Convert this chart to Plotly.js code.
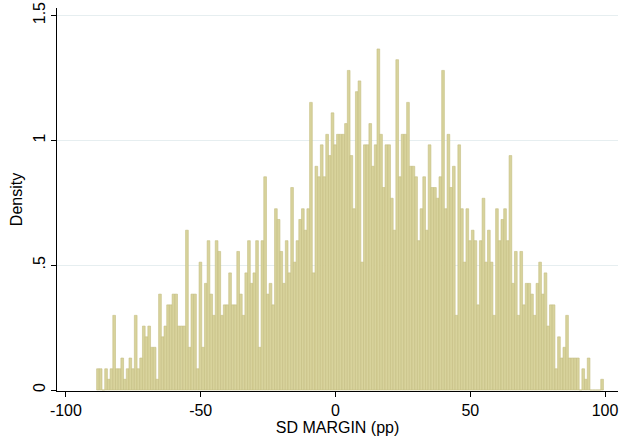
<!DOCTYPE html>
<html><head><meta charset="utf-8">
<script src="https://cdn.plot.ly/plotly-3.0.1.min.js"></script>
<style>html,body{margin:0;padding:0;background:#fff}</style>
</head><body><div id="chart" style="width:624px;height:436px"></div>
<script>
const binStart = -88.6;
const binWidth = 1;
const density = [
 0.085,0.085,0,0.085,0.043,0.085,0.299,0.085,0.085,0.128,
 0.043,0.085,0.128,0.085,0.299,0.085,0.128,0.256,0.213,0.256,
 0.171,0.171,0.043,0.384,0.213,0.256,0.341,0.341,0.384,0.384,
 0.256,0.256,0.256,0.640,0.171,0.384,0.384,0.085,0.512,0.171,
 0.427,0.598,0.384,0.299,0.598,0.555,0.299,0.341,0.341,0.469,
 0.341,0.341,0.555,0.384,0.299,0.469,0.598,0.427,0.469,0.598,
 0.171,0.598,0.854,0.384,0.427,0.341,0.726,0.683,0.555,0.427,
 0.598,0.469,0.811,0.512,0.598,0.683,0.726,0.640,0.726,1.152,
 0.469,0.896,0.854,0.982,0.854,1.024,0.939,1.110,0.982,1.024,
 1.024,1.024,1.067,1.280,0.939,0.726,1.195,1.238,0.512,0.982,
 0.982,1.067,0.896,0.982,1.366,1.024,0.811,0.982,0.982,0.768,
 0.640,1.323,0.854,1.024,1.024,1.152,0.896,0.896,0.854,0.598,
 0.726,0.854,0.640,0.982,0.811,0.811,0.768,0.854,1.280,0.726,
 1.024,0.811,0.896,0.299,0.982,0.726,0.512,0.726,0.598,0.640,
 0.598,0.341,0.598,0.768,0.512,0.640,0.512,0.299,0.726,0.598,
 0.683,0.726,0.598,0.939,0.427,0.555,0.299,0.555,0.341,0.427,
 0.427,0.384,0.299,0.427,0.512,0.384,0.469,0.256,0.341,0.341,
 0.085,0.213,0.128,0.171,0.299,0.128,0.128,0.128,0.128,0,
 0.085,0.043,0.128,0,0,0,0,0.043
];
const xTickVals = [-100, -50, 0, 50, 100];
const xTickText = ['-100', '-50', '0', '50', '100'];
const yTickVals = [0, 0.5, 1, 1.5];
const yTickText = ['0', '.5', '1', '1.5'];
const xTitle = 'SD MARGIN (pp)';
const yTitle = 'Density';

const xCenters = density.map((_, i) => binStart + binWidth * (i + 0.5));

const trace = {
  type: 'bar',
  x: xCenters,
  y: density,
  width: binWidth,
  marker: { color: 'rgb(216,211,156)', line: { color: 'rgb(196,190,130)', width: 0.6 } },
  hoverinfo: 'x+y'
};

const font = { family: 'Liberation Sans, Arial, sans-serif', size: 16, color: '#000' };

const layout = {
  width: 624, height: 436,
  margin: { l: 57, r: 6, t: 8, b: 45 },
  paper_bgcolor: '#fff', plot_bgcolor: '#fff',
  font: font,
  showlegend: false,
  bargap: 0,
  xaxis: {
    range: [-103.3, 104.8],
    tickvals: xTickVals, ticktext: xTickText,
    showgrid: false, zeroline: false,
    showline: true, linecolor: '#000', linewidth: 1,
    ticks: 'outside', ticklen: 5, tickcolor: '#000',
    tickfont: font,
    title: { text: xTitle, font: font, standoff: 1 }
  },
  yaxis: {
    range: [-0.004, 1.53],
    tickvals: yTickVals, ticktext: yTickText,
    tickangle: -90,
    showgrid: true, gridcolor: '#e6eef0', gridwidth: 1,
    zeroline: false,
    showline: true, linecolor: '#000', linewidth: 1,
    ticks: 'outside', ticklen: 5, tickcolor: '#000',
    tickfont: font,
    title: { text: yTitle, font: font, standoff: 3 }
  }
};

Plotly.newPlot('chart', [trace], layout, { displayModeBar: false, staticPlot: true });
</script>
</body></html>
